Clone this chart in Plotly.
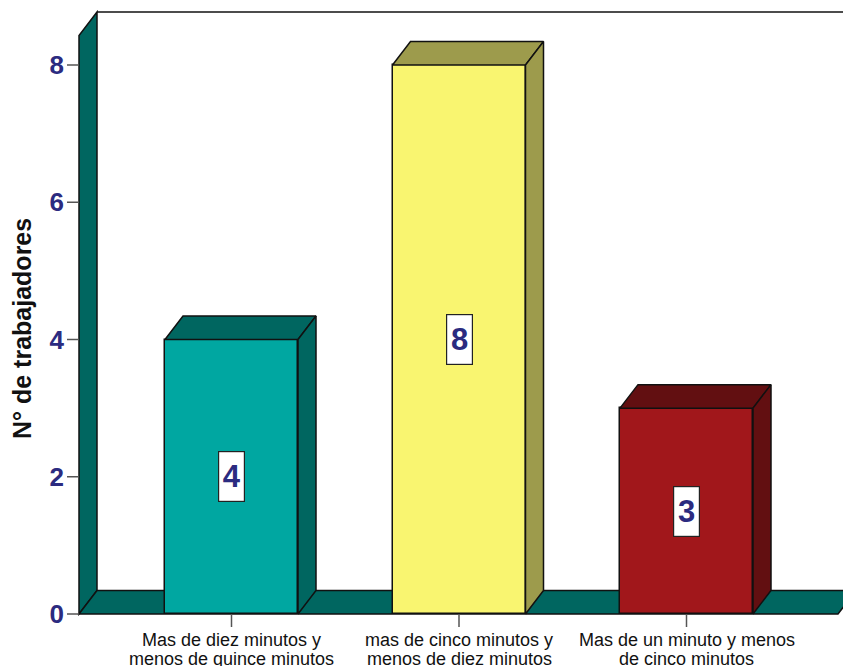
import plotly.graph_objects as go

# ---------------- data ----------------
categories = [
    "Mas de diez minutos y<br>menos de quince minutos",
    "mas de cinco minutos y<br>menos de diez minutos",
    "Mas de un minuto y menos<br>de cinco minutos",
]
values = [4, 8, 3]
y_ticks = [0, 2, 4, 6, 8]
y_title = "N° de trabajadores"

# ---------------- style ----------------
front_colors = ["#00A7A1", "#F9F570", "#A1171B"]
shade_colors = ["#006660", "#9D9B4C", "#620F11"]
wall_color = "#006660"
navy = "#2B2B80"
edge = "#111111"
FONT = "Arial, Liberation Sans, sans-serif"

W, H = 843, 666
ml, mr, mt, mb = 67, 0, 8, 39
plot_w = W - ml - mr
plot_h = H - mt - mb

# pixel scale: category spacing and unit height
px_x = 227.5
px_y = 68.625
x0_px_center = 231.5          # pixel of first category centre
x_rng = [(ml - x0_px_center) / px_x, (W - mr - x0_px_center) / px_x]
y_rng = [-(H - mb - 614) / px_y, (614 - mt) / px_y]

dx = 18 / px_x                # depth offset (data units)
dy = 23.5 / px_y
bar_w = 133 / px_x
xw = (79 - x0_px_center) / px_x        # front of left wall
x_floor_end = (838 - x0_px_center) / px_x
y_top = (614 - 12) / px_y               # top of back wall

xs = list(range(len(categories)))

fig = go.Figure()

# front faces of bars
fig.add_trace(go.Bar(
    x=xs, y=values, width=bar_w,
    marker=dict(color=front_colors, line=dict(color=edge, width=1.5)),
    hoverinfo="skip", showlegend=False,
))

# top and side faces
for i, v in enumerate(values):
    xl = xs[i] - bar_w / 2
    xr = xs[i] + bar_w / 2
    fig.add_trace(go.Scatter(
        x=[xl, xl + dx, xr + dx, xr, xl],
        y=[v, v + dy, v + dy, v, v],
        fill="toself", fillcolor=shade_colors[i], mode="lines",
        line=dict(color=edge, width=1.5), hoverinfo="skip", showlegend=False,
    ))
    fig.add_trace(go.Scatter(
        x=[xr, xr + dx, xr + dx, xr, xr],
        y=[0, dy, v + dy, v, 0],
        fill="toself", fillcolor=shade_colors[i], mode="lines",
        line=dict(color=edge, width=1.5), hoverinfo="skip", showlegend=False,
    ))

# y tick marks (left of wall)
tx, ty = [], []
for t in y_ticks:
    tx += [x_rng[0], xw, None]
    ty += [t, t, None]
fig.add_trace(go.Scatter(x=tx, y=ty, mode="lines", line=dict(color="#555555", width=1.5),
                         hoverinfo="skip", showlegend=False))
# x tick marks
kx, ky = [], []
for x in xs:
    kx += [x, x, None]
    ky += [y_rng[0], 0, None]
fig.add_trace(go.Scatter(x=kx, y=ky, mode="lines", line=dict(color="#555555", width=1.5),
                         hoverinfo="skip", showlegend=False))

# walls and floor (below traces)
shapes = []
wall_path = (f"M {xw},{0} L {xw},{y_top - dy} L {xw + dx},{y_top} "
             f"L {xw + dx},{dy} Z")
floor_path = (f"M {xw},{0} L {xw + dx},{dy} L {x_floor_end + dx},{dy} "
              f"L {x_floor_end},{0} Z")
shapes.append(dict(type="path", path=wall_path, xref="x", yref="y",
                   fillcolor=wall_color, line=dict(color=edge, width=1.5), layer="below"))
shapes.append(dict(type="path", path=floor_path, xref="x", yref="y",
                   fillcolor=wall_color, line=dict(color=edge, width=1.5), layer="below"))
# back wall top edge
shapes.append(dict(type="line", xref="x", yref="y", x0=xw + dx, x1=x_rng[1] + 1,
                   y0=y_top, y1=y_top, line=dict(color=edge, width=1.5), layer="below"))

annotations = []
# value labels
for i, v in enumerate(values):
    annotations.append(dict(
        x=xs[i], y=v / 2, xref="x", yref="y", text=f"<b>{v}</b>", showarrow=False,
        font=dict(family=FONT, size=31, color=navy),
        bgcolor="white", bordercolor="#222222", borderwidth=1.2,
        width=23, height=47, borderpad=1,
    ))

# category labels (two lines each)
def paper_y(py):
    return (H - mb - py) / plot_h

for i, c in enumerate(categories):
    lines = c.split("<br>")
    for j, ln in enumerate(lines):
        annotations.append(dict(
            x=xs[i], y=paper_y(640 + 18.5 * j), xref="x", yref="paper",
            text=ln, showarrow=False, xanchor="center", yanchor="middle",
            font=dict(family=FONT, size=18, color="#111111"),
        ))

# y axis title
annotations.append(dict(
    x=(22 - ml) / plot_w, y=paper_y(329), xref="paper", yref="paper",
    text=f"<b>{y_title}</b>", textangle=-90, showarrow=False,
    xanchor="center", yanchor="middle",
    font=dict(family=FONT, size=25, color="#111111"),
))

fig.update_layout(
    width=W, height=H,
    margin=dict(l=ml, r=mr, t=mt, b=mb, pad=0),
    paper_bgcolor="white", plot_bgcolor="white",
    shapes=shapes, annotations=annotations,
    xaxis=dict(range=x_rng, showgrid=False, zeroline=False, showline=False,
               showticklabels=False, ticks="", fixedrange=True),
    yaxis=dict(range=y_rng, showgrid=False, zeroline=False, showline=False,
               tickmode="array", tickvals=y_ticks, ticks="",
               tickfont=dict(family=FONT, size=26, color=navy, weight="bold"),
               ticklabelstandoff=2, fixedrange=True),
    showlegend=False,
    bargap=0,
)

fig.write_html("out.html")
